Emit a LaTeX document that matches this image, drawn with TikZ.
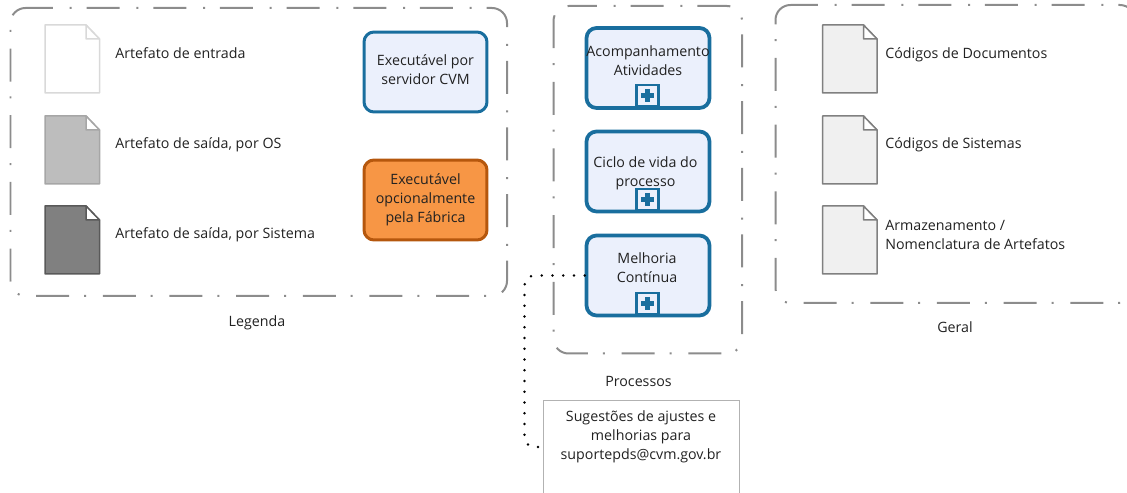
\documentclass[tikz,border=0pt]{standalone}
\usepackage{fontspec}
\setmainfont{Open Sans}
\usetikzlibrary{positioning}
\definecolor{mazul}{rgb}{0.10, 0.43, 0.62}
\definecolor{mazulclaro}{rgb}{0.92, 0.94, 0.99}
\definecolor{mlaranja}{rgb}{0.97, 0.59, 0.27}
\definecolor{mlaranjaesc}{rgb}{0.71, 0.34, 0.05}
\definecolor{mtraco}{rgb}{0.55, 0.55, 0.55}
\definecolor{mtexto}{rgb}{0.13, 0.13, 0.13}
\tikzset{
  texto/.style={font=\fontsize{8.1}{10.8}\selectfont, text=mtexto, inner sep=0pt, align=center},
  textoesq/.style={texto, anchor=west, align=left},
  grupo/.style={draw=mtraco, line width=0.04cm, rounded corners=0.3cm,
    dash pattern=on 0.66cm off 0.335cm on 0.04cm off 0.2985cm},
  caixa/.style={draw=mazul, fill=mazulclaro, line width=0.06cm, rounded corners=0.2cm,
    minimum width=2.46cm, minimum height=1.6cm, inner sep=0pt},
  caixaproc/.style={caixa, line width=0.075cm},
  maisbox/.style={draw=mazul, fill=mazulclaro, line width=0.05cm, minimum width=0.44cm, minimum height=0.42cm,
    inner sep=0pt, path picture={
      \draw [mazul, line width=0.09cm] (path picture bounding box.center) ++(-6.5, 0) -- ++(13, 0);
      \draw [mazul, line width=0.09cm] (path picture bounding box.center) ++(0, -6.5) -- ++(0, 13);
    }},
  artefato/.pic={
    \draw [pic actions, line join=round] (0, 0) -- (41, 0) -- (54.5, 14) -- (54.5, 68) -- (0, 68) -- cycle;
    \draw [pic actions, fill=white, line join=round] (41, 0) -- (41, 14) -- (54.5, 14) -- cycle;
  },
  docbranco/.style={draw=black!15, fill=white, line width=0.03cm},
  docclaro/.style={draw=black!35, fill=black!26, line width=0.03cm},
  docescuro/.style={draw=black!65, fill=black!50, line width=0.03cm},
  docgeral/.style={draw=black!50, fill=black!6, line width=0.03cm},
}

\begin{document}
\begin{tikzpicture}[x=0.02cm, y=-0.02cm]
    \path [use as bounding box, clip] (0, 0) rectangle (1127, 493);

    % Legenda
    \draw [grupo, dash phase=0.11cm] (10.5, 8) -- (507, 8) -- (507, 296) -- (10.5, 296) -- cycle;
    \pic [docbranco] at (45, 25) {artefato};
    \pic [docclaro] at (45, 116) {artefato};
    \pic [docescuro] at (45, 206) {artefato};
    \node [textoesq] (entrada) at (115, 53.5) {Artefato de entrada};
    \node [textoesq] (saidaos) at (115, 145) {Artefato de saída, por OS};
    \node [textoesq] (saidasis) at (115, 235) {Artefato de saída, por Sistema};
    \node [caixa] (servidor) at (425.5, 72) {};
    \node [caixa, draw=mlaranjaesc, fill=mlaranja] (fabrica) at (425.5, 200) {};
    \node [texto] (txtservidor) at (425.5, 70) {Executável por\\servidor CVM};
    \node [texto] (txtfabrica) at (425.5, 199.5) {Executável\\opcionalmente\\pela Fábrica};
    \node [texto] (legenda) at (257, 323) {Legenda};

    % Processos
    \draw [grupo, dash phase=0.09cm] (553.5, 6) -- (742, 6) -- (742, 353.5) -- (553.5, 353.5) -- cycle;
    \node [caixaproc] (acomp) at (648, 68) {};
    \node [caixaproc] (ciclo) at (648, 171.5) {};
    \node [caixaproc] (melhoria) at (648, 275.5) {};
    \node [texto] (txtacomp) at (648, 61) {Acompanhamento\\Atividades};
    \node [texto] (txtciclo) at (645.5, 173) {Ciclo de vida do\\processo};
    \node [texto] (txtmelhoria) at (647, 268) {Melhoria\\Contínua};
    \node [maisbox] (maisacomp) at (647.5, 95.5) {};
    \node [maisbox] (maisciclo) at (647.5, 199.5) {};
    \node [maisbox] (maismelhoria) at (647.5, 303.5) {};
    \node [texto] (processos) at (638.5, 381) {Processos};

    % Sugestoes
    \node [draw=black!30, line width=0.02cm, minimum width=3.91cm, minimum height=1.88cm, inner sep=0pt] (sugestoes) at (641.5, 447) {};
    \node [texto] (txtsugestoes) at (641, 437) {Sugestões de ajustes e\\melhorias para\\suportepds@cvm.gov.br};
    \draw [black, line width=0.055cm, line cap=round, dash pattern=on 0pt off 0.215cm, rounded corners=0.2cm, shorten >=0.08cm]
      (melhoria.west) -- (524.5, 275.5) -- (524.5, 447) -- (sugestoes.west);

    % Geral
    \draw [grupo, dash phase=0.11cm] (775.5, 5) -- (1134.9, 5) -- (1134.9, 303) -- (775.5, 303) -- cycle;
    \pic [docgeral] at (822.5, 25) {artefato};
    \pic [docgeral] at (822.5, 116) {artefato};
    \pic [docgeral] at (822.5, 206) {artefato};
    \node [textoesq] (codigosdoc) at (885, 55) {Códigos de Documentos};
    \node [textoesq] (codigossis) at (885, 145) {Códigos de Sistemas};
    \node [textoesq] (nomenclatura) at (885, 235) {Armazenamento /\\Nomenclatura de Artefatos};
    \node [texto] (geral) at (955, 327) {Geral};
\end{tikzpicture}
\end{document}
